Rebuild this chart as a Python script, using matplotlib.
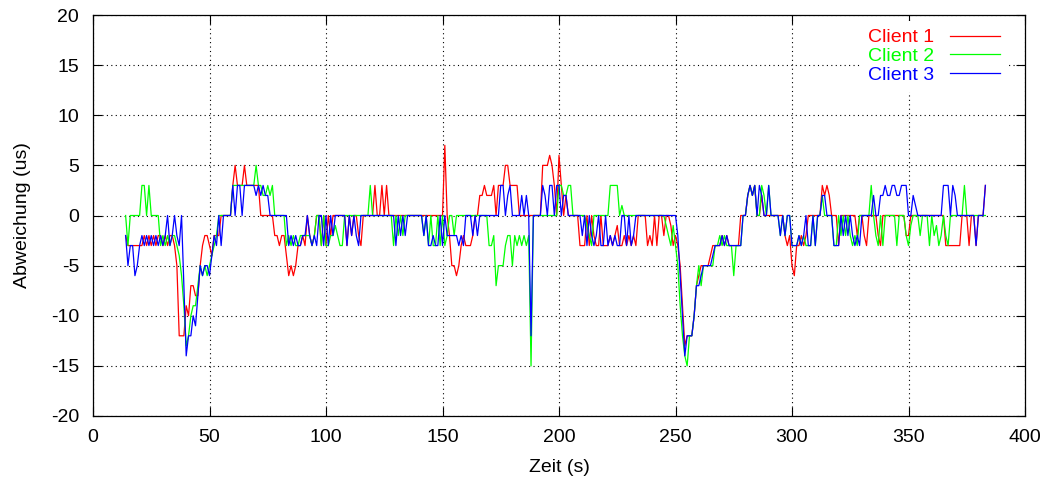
import matplotlib
matplotlib.use("Agg")
import matplotlib.pyplot as plt

# ── Data (one sample per second, 14 s .. 383 s) ─────────────────────────────
zeit = list(range(14, 384))

client1 = [
    -2, -3, -3, -3, -3, -3, -3, -3, -2, -3,     # 14
    -2, -3, -2, -3, -2, -2, -3, -2, -3, -2,     # 24
    -2, -3, -5, -12, -12, -12, -9, -10, -7, -7,  # 34
    -8, -8, -5, -3, -2, -2, -3, -4, -2, -2,     # 44
    -2, 0, 0, 0, 0, 0, 3, 5, 3, 3,              # 54
    3, 5, 3, 3, 3, 3, 3, 3, 0, 0,               # 64
    0, 0, 0, 0, -2, -2, -3, -2, -2, -4,         # 74
    -6, -5, -6, -5, -3, -3, -2, -3, 0, -2,      # 84
    -3, -2, 0, 0, -3, 0, -3, 0, -2, 0,          # 94
    0, 0, 0, 0, 0, -3, 0, -2, 0, 0,             # 104
    -2, -3, 0, 0, 0, 0, 0, 3, 0, 0,             # 114
    3, 0, 3, 0, 0, 0, 0, 0, 0, 0,               # 124
    0, 0, 0, 0, 0, 0, 0, 0, 0, 0,               # 134
    0, 0, 0, 0, 0, 0, 0, 7, 0, -2,              # 144
    -5, -5, -6, -5, -3, -2, -3, -3, -3, -2,     # 154
    0, 0, 2, 2, 3, 2, 2, 2, 3, 0,               # 164
    3, 3, 3, 5, 5, 3, 3, 3, 3, 0,               # 174
    0, 0, 0, 0, 0, 0, 0, 0, 0, 5,               # 184
    5, 5, 6, 5, 3, 0, 6, 3, 0, 2,               # 194
    0, 0, 0, 0, 0, -3, -3, -3, 0, -3,           # 204
    0, -2, -3, -3, 0, -3, -3, -3, -2, -3,       # 214
    -2, -1, -3, -3, -2, -3, -2, -3, -2, -3,     # 224
    0, 0, 0, 0, -3, -2, -3, 0, -3, 0,           # 234
    0, -2, 0, 0, -1, -3, -2, -3, -5, -9,        # 244
    -13, -12, -12, -12, -10, -7, -6, -5, -5, -5,  # 254
    -5, -4, -3, -3, -3, -3, -2, -3, -2, -3,     # 264
    -3, -3, -3, -3, 0, 0, 0, 2, 3, 2,           # 274
    3, 0, 0, 2, 0, 0, 0, 0, 0, 0,               # 284
    0, 0, 0, -2, -3, -2, -5, -6, -3, -3,        # 294
    -2, -3, -2, 0, 0, 0, 0, 0, 0, 3,            # 304
    2, 3, 2, 0, 0, 0, -3, 0, 0, 0,              # 314
    0, 0, 0, 0, -2, 0, 0, -2, -3, 0,            # 324
    0, 0, 0, -2, -3, 0, 0, 0, 0, 0,             # 334
    0, 0, 0, 0, 0, -2, -2, 0, 0, 0,             # 344
    0, 0, 0, 0, 0, 0, 0, 0, 0, 0,               # 354
    0, 0, -3, -3, -3, -3, -3, -3, -3, 0,        # 364
    0, 0, -3, 0, 0, -3, 0, 0, 0, 3,             # 374
]

client2 = [
    0, -3, 0, 0, 0, 0, 0, 3, 3, 0,              # 14
    3, 0, 0, 0, 0, -3, -2, -3, -2, -3,          # 24
    -2, -2, -3, -4, -6, -9, -13, -12, -10, -9,  # 34
    -9, -7, -5, -6, -5, -6, -5, -4, -3, -2,     # 44
    0, 0, 0, 0, 0, 0, 3, 3, 3, 3,               # 54
    3, 3, 3, 3, 3, 3, 5, 3, 3, 2,               # 64
    2, 3, 2, 3, 0, 0, 0, 0, 0, -3,              # 74
    -2, -3, -2, -3, -3, -2, -2, -2, -2, -2,     # 84
    -3, -2, 0, 0, -3, 0, -3, -3, -2, -2,        # 94
    -1, -2, -3, -3, 0, 0, 0, 0, 0, 0,           # 104
    0, 0, 0, 0, 0, 3, 0, 0, 0, 0,               # 114
    0, 0, 0, 0, 0, -3, 0, -2, 0, -2,            # 124
    0, 0, 0, 0, 0, 0, 0, 0, -2, 0,              # 134
    -3, 0, -3, -3, 0, -3, 0, -3, -2, 0,         # 144
    0, -2, 0, 0, 0, 0, 0, 0, 0, 0,              # 154
    0, 0, 0, 0, 0, 0, -3, -3, -2, -7,           # 164
    -5, -5, -5, -3, -2, -2, -5, -2, -3, -2,     # 174
    -3, -2, -3, -2, -15, 0, 0, 0, 0, 0,         # 184
    0, 0, 0, 0, 0, 0, 3, 3, 2, 2,               # 194
    3, 3, 0, 0, 0, 0, 0, 0, -1, -2,             # 204
    -3, 0, 0, 0, 0, 0, 0, 0, 3, 3,              # 214
    3, 3, 0, 1, 0, 0, 0, 0, 0, 0,               # 224
    0, 0, 0, 0, 0, 0, 0, 0, 0, 0,               # 234
    0, 0, -1, -2, -3, -1, -3, -5, -9, -12,      # 244
    -14, -15, -12, -12, -10, -7, -5, -7, -5, -5,  # 254
    -5, -5, -5, -3, -3, -2, -3, -2, -3, -3,     # 264
    -3, -6, -3, -3, -3, 0, 0, 2, 3, 2,          # 274
    3, 0, 0, 3, 2, 0, 3, 0, 0, 0,               # 284
    0, -2, 0, -2, 0, 0, -3, -3, -3, -2,         # 294
    -3, -2, -3, -3, -3, 0, -3, 0, 0, 2,         # 304
    0, 0, 0, 0, -3, -3, 0, -2, 0, -2,           # 314
    0, -2, -3, -2, -3, 0, 0, 0, 0, 0,           # 324
    3, 0, -2, -3, 0, -3, 0, 0, 0, 0,            # 334
    0, -3, 0, 0, 0, -2, -3, -1, 0, 0,           # 344
    0, -2, 0, 0, 0, -3, 0, -2, -1, -3,          # 354
    -2, 0, -2, -3, 0, 0, 0, 0, 0, 0,            # 364
    3, 0, 0, 0, 0, 0, 0, 0, 0, 0,               # 374
]

client3 = [
    -2, -5, -3, -3, -6, -5, -3, -2, -3, -2,     # 14
    -3, -2, -3, -2, -3, -2, -3, -2, 0, -3,      # 24
    -2, 0, -2, -3, 0, -7, -14, -12, -12, -10,   # 34
    -11, -8, -5, -6, -5, -5, -6, -4, -2, -3,    # 44
    0, -3, 0, 0, 0, 0, 3, 0, 3, 3,              # 54
    0, 3, 3, 3, 3, 3, 2, 3, 2, 3,               # 64
    2, 2, 0, 0, 0, 0, 0, 0, 0, 0,               # 74
    -3, -2, -3, -2, -3, -3, -2, -2, 0, -2,      # 84
    -3, -2, -3, 0, 0, -3, 0, -3, 0, -2,         # 94
    0, 0, 0, 0, 0, -3, 0, -2, 0, -2,            # 104
    -3, 0, 0, 0, 0, 0, 0, 0, 0, 0,              # 114
    0, 0, 0, 0, 0, 0, -3, 0, -2, 0,             # 124
    -2, 0, 0, 0, 0, 0, 0, 0, -2, 0,             # 134
    -3, -3, -2, -3, -3, 0, -3, 0, -2, -2,       # 144
    -2, -2, -2, -3, -2, -3, 0, 0, 0, -2,        # 154
    0, -2, 0, 0, 0, 0, 0, 0, 0, 0,              # 164
    0, 3, 3, 0, 2, 3, 0, 0, 0, 0,               # 174
    2, 0, 2, 0, -12, 0, 0, 0, 0, 3,             # 184
    2, 0, 3, 3, 0, 3, 3, 0, 2, 2,               # 194
    0, 0, 0, 0, 0, 0, -2, 0, -3, 0,             # 204
    -2, -3, -2, 0, -3, -3, 0, -3, -2, -3,       # 214
    -2, -3, -3, 0, 0, -3, 0, -3, -2, 0,         # 224
    0, 0, 0, 0, 0, 0, 0, 0, 0, 0,               # 234
    0, 0, 0, 0, 0, 0, 0, -2, -6, -10,           # 244
    -14, -12, -12, -12, -10, -7, -7, -6, -5, -5,  # 254
    -5, -5, -4, -3, -3, -3, -2, -3, -2, -3,     # 264
    -3, -3, -3, -3, -3, 0, 0, 2, 3, 2,          # 274
    3, 0, 3, 2, 0, 0, 3, 0, 0, 0,               # 284
    0, -2, 0, -2, 0, 0, -3, -3, -3, -2,         # 294
    -3, -2, 0, -3, -3, 0, -3, 0, 0, 2,          # 304
    2, 0, 0, 0, -3, -3, -3, 0, -2, 0,           # 314
    -2, 0, -2, -3, -2, -3, 0, 0, 0, 0,          # 324
    0, 2, 0, 0, 2, 2, 3, 2, 2, 3,               # 334
    3, 2, 2, 3, 3, 3, 0, 0, 2, 1,               # 344
    0, 0, 0, 0, 0, 0, 0, 0, 0, 0,               # 354
    0, 3, 3, 3, 0, 3, 2, 0, 0, 0,               # 364
    0, 0, 0, 0, 0, -3, 0, 0, 0, 3,              # 374
]

series = [("Client 1", client1, "#ff0000"),
          ("Client 2", client2, "#00ff00"),
          ("Client 3", client3, "#0000ff")]

x_ticks = list(range(0, 401, 50))
y_ticks = list(range(-20, 21, 5))

# ── Plot (gnuplot look) ─────────────────────────────────────────────────────
plt.rcParams["font.family"] = ["Liberation Sans", "DejaVu Sans"]
plt.rcParams["font.size"] = 14
plt.rcParams["axes.unicode_minus"] = False

fig = plt.figure(figsize=(10.5, 4.8), dpi=100)
ax = fig.add_axes([93 / 1050, 1 - 416 / 480, (1025 - 93) / 1050, (416 - 15) / 480])

for label, values, color in series:
    ax.plot(zeit, values, color=color, lw=0.9, label=label)

ax.set_xlim(0, 400)
ax.set_ylim(-20, 20)
ax.set_xticks(x_ticks)
ax.set_yticks(y_ticks)
ax.tick_params(direction="in", top=True, right=True, length=6.5, width=0.8,
               labelsize=14)
ax.tick_params(axis="x", pad=9)
ax.tick_params(axis="y", pad=10)
ax.grid(True, color="black", linestyle=(0, (1, 3)), linewidth=0.8)
for sp in ax.spines.values():
    sp.set_linewidth(0.9)

ax.set_xlabel("Zeit (s)", fontsize=14, labelpad=10)
ax.set_ylabel("Abweichung (us)", fontsize=14, labelpad=14)

leg = ax.legend(loc="upper right", bbox_to_anchor=(0.9818, 0.985),
                markerfirst=False, frameon=True,
                facecolor="white", edgecolor="none", framealpha=1,
                fancybox=False, handlelength=2.6, handletextpad=0.8,
                labelspacing=0.06, borderpad=0.4, borderaxespad=0.0,
                labelcolor="linecolor", fontsize=14)
leg.set_zorder(5)

fig.savefig("out.png", dpi=100)
